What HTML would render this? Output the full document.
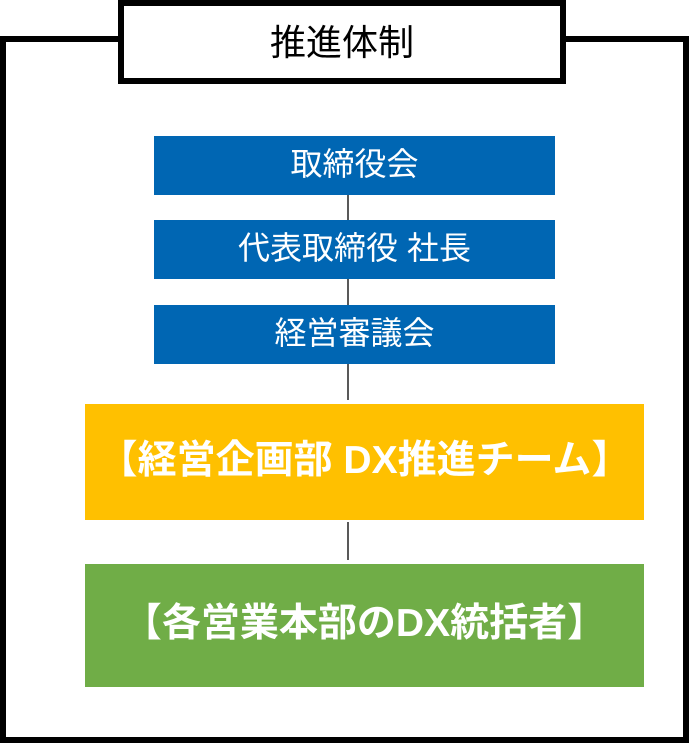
<!DOCTYPE html>
<html><head><meta charset="utf-8"><style>
body{margin:0;width:689px;height:743px;position:relative;background:#fff;overflow:hidden;font-family:"Liberation Sans","Noto Sans CJK JP",sans-serif}
.a{position:absolute;box-sizing:border-box}
.b{background:#0066b3;color:#fff;font-size:32px;display:flex;align-items:center;justify-content:center;left:154px;width:401px;height:59px;white-space:nowrap;padding-bottom:8px}
.big{color:#fff;font-weight:bold;font-size:39px;display:flex;align-items:center;justify-content:center;left:85px;width:559px;white-space:nowrap}
.l{background:#595959;width:2px;left:347px}
</style></head><body>
<div class="a" style="left:0;top:36px;width:689px;height:707px;border:6px solid #000"></div>
<div class="a" style="left:118px;top:0;width:448px;height:84px;border:6px solid #000;background:#fff;display:flex;align-items:center;justify-content:center;font-size:36px;color:#000;padding-bottom:4px">推進体制</div>
<div class="a l" style="top:190px;height:120px"></div>
<div class="a l" style="top:360px;height:40px"></div>
<div class="a l" style="top:522px;height:38px"></div>
<div class="a b" style="top:136px">取締役会</div>
<div class="a b" style="top:220px">代表取締役 社長</div>
<div class="a b" style="top:305px">経営審議会</div>
<div class="a big" style="top:404px;height:116px;background:#ffc000;padding-bottom:10px">【経営企画部 DX推進チーム】</div>
<div class="a big" style="top:564px;height:123px;background:#70ad47;padding-bottom:12px">【各営業本部のDX統括者】</div>
</body></html>
